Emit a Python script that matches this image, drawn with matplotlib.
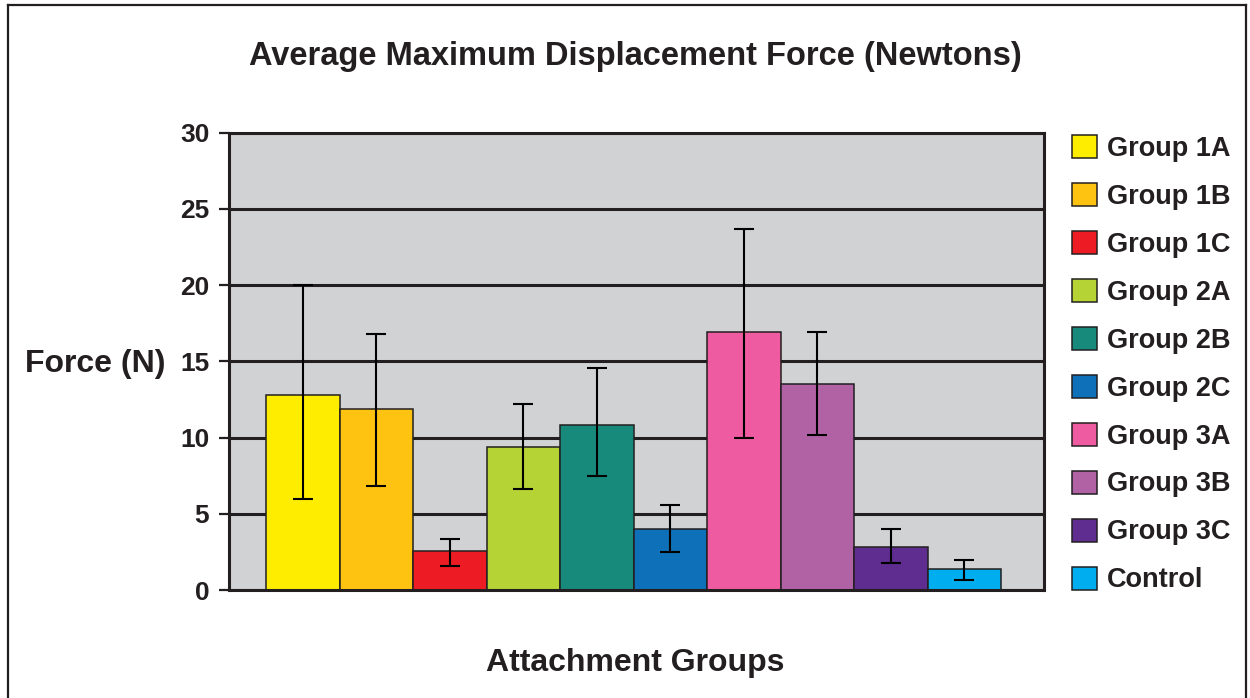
## ========================================================
## Average Maximum Displacement Force - bar chart w/ error bars
## ========================================================
import matplotlib
matplotlib.use("Agg")
import matplotlib.pyplot as plt
from matplotlib.lines import Line2D

## 데이터
groups = ["Group 1A", "Group 1B", "Group 1C", "Group 2A", "Group 2B",
          "Group 2C", "Group 3A", "Group 3B", "Group 3C", "Control"]
force_mean = [12.8, 11.85, 2.55, 9.4, 10.85, 4.0, 16.9, 13.5, 2.85, 1.35]
err_plus   = [7.2, 4.95, 0.8, 2.8, 3.7, 1.55, 6.8, 3.45, 1.15, 0.65]
err_minus  = [6.8, 5.05, 0.95, 2.8, 3.4, 1.5, 6.95, 3.3, 1.1, 0.7]
bar_colors = ["#FFED00", "#FDC310", "#ED1C24", "#B5D334", "#178A7C",
              "#0E70B8", "#EF5BA1", "#B062A5", "#5F2C8F", "#00AEEF"]
y_ticks = [0, 5, 10, 15, 20, 25, 30]

DARK = "#231F20"
plt.rcParams["font.family"] = ["Liberation Sans", "DejaVu Sans"]
plt.rcParams["font.weight"] = "bold"

fig = plt.figure(figsize=(12.5, 6.98), dpi=100)
ax = fig.add_axes([0.183, 0.1547, 0.6525, 0.6552])
ax.set_facecolor("#D1D2D4")

## 막대 + 오차막대
x = list(range(len(groups)))
bars = ax.bar(x, force_mean, width=1.0, color=bar_colors,
              edgecolor=DARK, linewidth=1.1, zorder=2)
ax.errorbar(x, force_mean, yerr=[err_minus, err_plus], fmt="none",
            ecolor="black", elinewidth=1.5, capsize=7, capthick=1.5, zorder=3)

## 축 설정
ax.set_xlim(-1.01, 10.09)
ax.set_ylim(0, 30)
ax.set_yticks(y_ticks)
ax.set_xticks([])
ax.yaxis.grid(True, color=DARK, linewidth=2.2)
ax.set_axisbelow(True)
ax.tick_params(axis="y", length=7.5, width=1.6, pad=6.5, colors=DARK,
               labelsize=19)
for lab in ax.get_yticklabels():
    lab.set_fontweight("bold")
for sp in ax.spines.values():
    sp.set_color(DARK)
    sp.set_linewidth(2.2)

## 텍스트
fig.text(635 / 1250, 1 - 56 / 698, "Average Maximum Displacement Force (Newtons)",
         ha="center", va="center", fontsize=23.5, fontweight="bold", color=DARK)
fig.text(95 / 1250, 1 - 364 / 698, "Force (N)", ha="center", va="center",
         fontsize=23, fontweight="bold", color=DARK)
fig.text(635 / 1250, 1 - 663 / 698, "Attachment Groups", ha="center", va="center",
         fontsize=23, fontweight="bold", color=DARK)

## 범례
leg = fig.legend(bars.patches, groups, loc="upper left",
                 bbox_to_anchor=(1072 / 1250, 1 - 135 / 698),
                 frameon=False, fontsize=19.5, handlelength=0.93,
                 handleheight=0.93, handletextpad=0.37, labelspacing=0.78,
                 borderpad=0, borderaxespad=0)
for t in leg.get_texts():
    t.set_color(DARK)

## 외곽 테두리
for xs, ys in [([7.5, 7.5], [0, 693]), ([7.5, 1246], [693, 693]),
               ([1246, 1246], [693, 0])]:
    fig.add_artist(Line2D([v / 1250 for v in xs], [v / 698 for v in ys],
                          color=DARK, linewidth=1.6))

fig.savefig("out.png", dpi=100)
